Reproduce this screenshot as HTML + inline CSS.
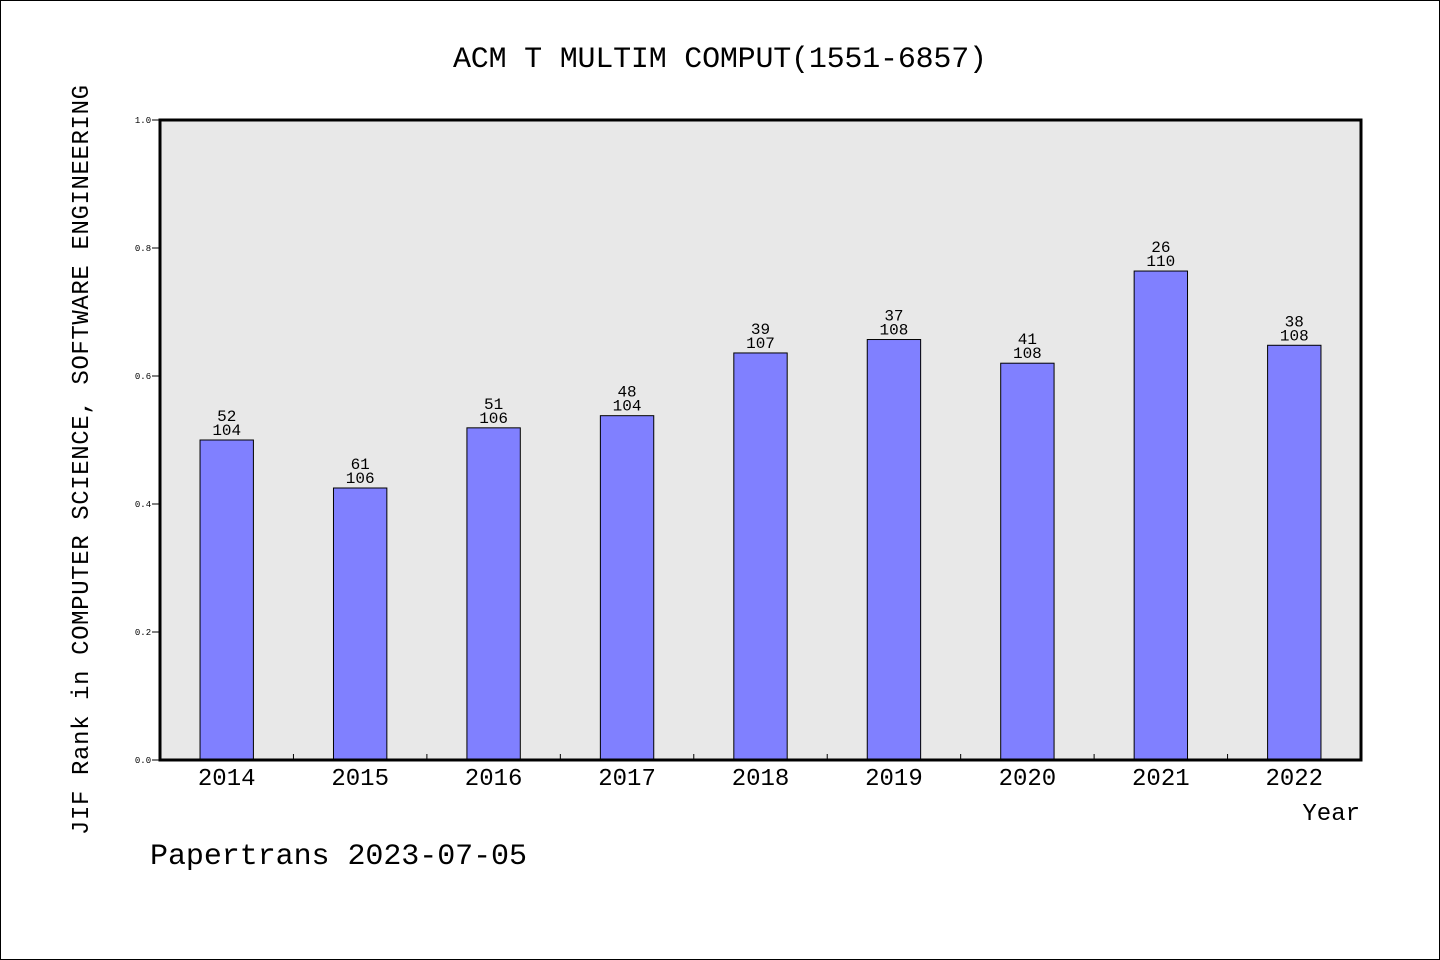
<!DOCTYPE html>
<html><head><meta charset="utf-8"><style>
html,body{margin:0;padding:0;background:#fff}
svg{display:block}
text{font-family:"Liberation Mono","WenQuanYi Zen Hei",monospace;fill:#000}
</style></head><body>
<svg id="chart" width="1440" height="960">
<rect x="0.5" y="0.5" width="1439" height="959" fill="#fff" stroke="#000"/>
<text x="720" y="67" font-size="30" text-anchor="middle" textLength="534">ACM T MULTIM COMPUT(1551-6857)</text>
<rect x="160" y="120" width="1201" height="640" fill="#e8e8e8"/>
<g id="bars"></g>
<g id="ticks"></g>
<rect x="160" y="120" width="1201" height="640" fill="none" stroke="#000" stroke-width="3"/>
<text transform="translate(88,460) rotate(-90)" font-size="24" text-anchor="middle" textLength="750">JIF Rank in COMPUTER SCIENCE, SOFTWARE ENGINEERING</text>
<text x="1360" y="820" font-size="24" text-anchor="end">Year</text>
<text x="150" y="864" font-size="30" textLength="377">Papertrans 2023-07-05</text>
</svg>
<script>
const categories=["2014","2015","2016","2017","2018","2019","2020","2021","2022"];
const values=[0.500,0.425,0.519,0.538,0.636,0.657,0.620,0.764,0.648];
const ranks=["52","61","51","48","39","37","41","26","38"];
const totals=["104","106","106","104","107","108","108","110","108"];
const yTicks=[0,0.2,0.4,0.6,0.8,1.0];
const L=160,R=1361,T=120,B=760;
const bw=(R-L)/categories.length;
const x=i=>L+bw*(i+0.5);
const y=v=>B-(v)*(B-T);
const NS="http://www.w3.org/2000/svg";
const bars=document.getElementById('bars'),ticks=document.getElementById('ticks');
function mk(tag,attrs,parent){const e=document.createElementNS(NS,tag);for(const k in attrs)e.setAttribute(k,attrs[k]);parent.appendChild(e);return e;}
categories.forEach((c,i)=>{
  const w=bw*0.4;
  const r=mk('rect',{x:x(i)-w/2,y:y(values[i]),width:w,height:B-y(values[i]),fill:'#8080ff',stroke:'#000','stroke-width':1},bars);
  
  
  const t1=mk('text',{x:x(i),y:y(values[i])-19,'font-size':16,'text-anchor':'middle'},bars);t1.textContent=ranks[i];
  
  
  const t2=mk('text',{x:x(i),y:y(values[i])-5,'font-size':16,'text-anchor':'middle'},bars);t2.textContent=totals[i];
  
  
  const xl=mk('text',{x:x(i),y:785,'font-size':24,'text-anchor':'middle'},ticks);xl.textContent=c;
  
  
  if(i>0){const tk=mk('line',{x1:L+bw*i,x2:L+bw*i,y1:B,y2:B-6,stroke:'#000'},ticks);
  
  }
});
yTicks.forEach(v=>{
  const ln=mk('line',{x1:152,x2:160,y1:y(v),y2:y(v),stroke:'#000'},ticks);
  
  
  const t=mk('text',{x:143,y:y(v)+3,'font-size':9,'text-anchor':'middle'},ticks);t.textContent=v.toFixed(1);
  
  
});
</script>
</body></html>
